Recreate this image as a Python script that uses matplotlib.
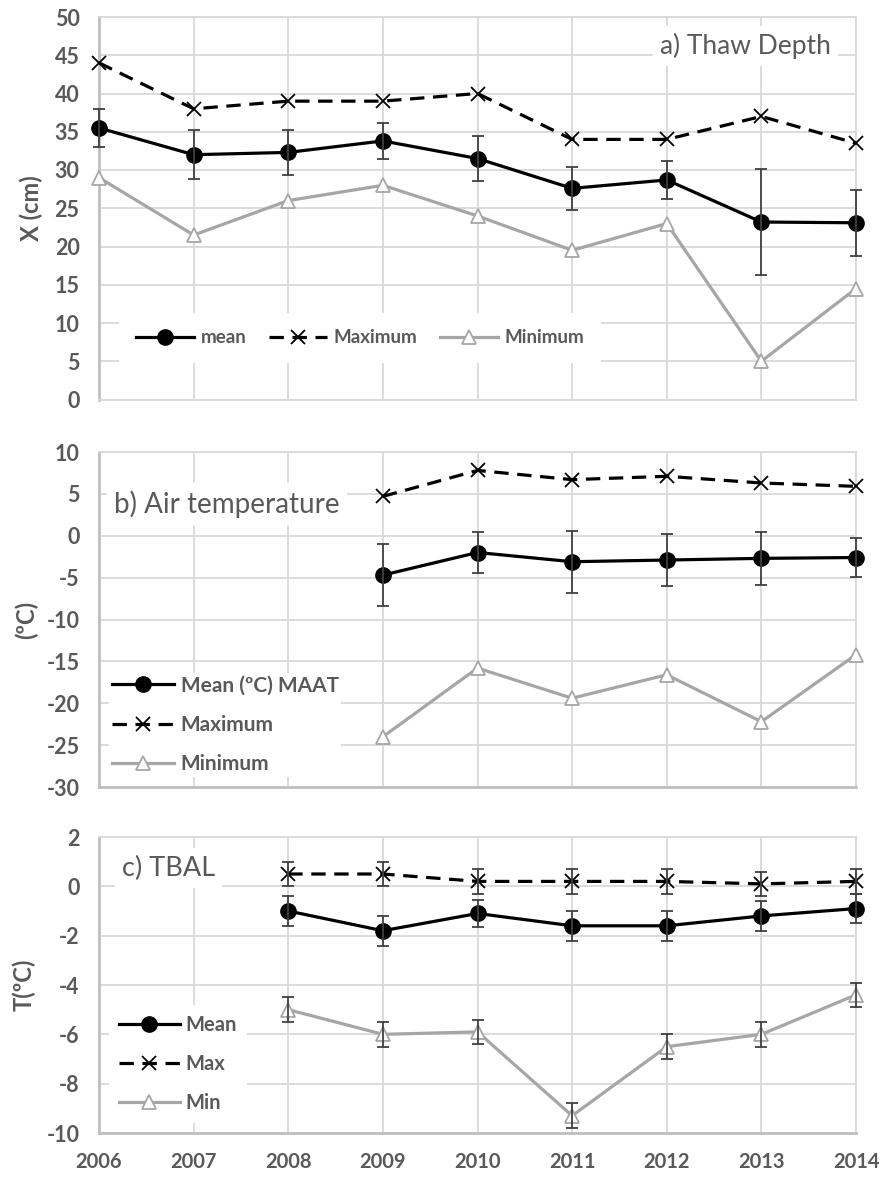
import matplotlib
matplotlib.use("Agg")
import matplotlib.pyplot as plt
import numpy as np

plt.rcParams['font.family'] = ['Lato', 'DejaVu Sans']
plt.rcParams['axes.unicode_minus'] = False

# ---------------- data ----------------
years_a = [2006, 2007, 2008, 2009, 2010, 2011, 2012, 2013, 2014]
thaw_mean = [35.5, 32.0, 32.3, 33.8, 31.5, 27.6, 28.7, 23.2, 23.1]
thaw_mean_err = [2.5, 3.2, 2.9, 2.3, 3.0, 2.8, 2.5, 6.9, 4.3]
thaw_max = [44, 38, 39, 39, 40, 34, 34, 37, 33.5]
thaw_min = [29, 21.5, 26, 28, 24, 19.5, 23, 5, 14.5]

years_b = [2009, 2010, 2011, 2012, 2013, 2014]
air_mean = [-4.7, -2.0, -3.1, -2.9, -2.7, -2.6]
air_mean_err = [3.7, 2.4, 3.7, 3.1, 3.2, 2.3]
air_max = [4.7, 7.8, 6.7, 7.1, 6.3, 5.9]
air_min = [-24.0, -15.8, -19.4, -16.6, -22.2, -14.2]

years_c = [2008, 2009, 2010, 2011, 2012, 2013, 2014]
tbal_mean = [-1.0, -1.8, -1.1, -1.6, -1.6, -1.2, -0.9]
tbal_mean_err = [0.6, 0.6, 0.55, 0.6, 0.6, 0.6, 0.6]
tbal_max = [0.5, 0.5, 0.2, 0.2, 0.2, 0.1, 0.2]
tbal_max_err = [0.5, 0.5, 0.5, 0.5, 0.5, 0.5, 0.5]
tbal_min = [-5.0, -6.0, -5.9, -9.3, -6.5, -6.0, -4.4]
tbal_min_err = [0.5, 0.5, 0.5, 0.5, 0.5, 0.5, 0.5]

x_ticks = [2006, 2007, 2008, 2009, 2010, 2011, 2012, 2013, 2014]

# ---------------- styles ----------------
TXT = '#595959'
GRID = '#D9D9D9'
SPINE = '#BFBFBF'
GRAY = '#A6A6A6'
ERR = '#404040'
W, H = 882, 1178

fig = plt.figure(figsize=(W / 100, H / 100), dpi=100)


def px_axes(left, right, top, bottom):
    return fig.add_axes([left / W, 1 - bottom / H, (right - left) / W, (bottom - top) / H])


ax_a = px_axes(99, 856, 17, 399.5)
ax_b = px_axes(99, 856, 452, 787)
ax_c = px_axes(99, 856, 837, 1133)


def style(ax, ylim, yticks, bottom_spine=True):
    ax.set_xlim(2006, 2014)
    ax.set_ylim(*ylim)
    ax.set_xticks(x_ticks)
    ax.set_yticks(yticks)
    ax.grid(True, color=GRID, linewidth=1.3, zorder=0)
    ax.set_axisbelow(True)
    for s in ['top', 'right']:
        ax.spines[s].set_color(GRID)
        ax.spines[s].set_linewidth(1.3)
    ax.spines['left'].set_color(SPINE)
    ax.spines['left'].set_linewidth(2.0)
    if bottom_spine:
        ax.spines['bottom'].set_color(SPINE)
        ax.spines['bottom'].set_linewidth(2.0)
    else:
        ax.spines['bottom'].set_color(GRID)
        ax.spines['bottom'].set_linewidth(1.3)
    ax.tick_params(axis='y', length=0, colors=TXT, labelsize=15.5, pad=14)
    ax.tick_params(axis='x', length=0, colors=TXT, labelsize=14.5, pad=14)
    for lab in ax.get_yticklabels():
        lab.set_fontweight('bold')
        lab.set_color(TXT)


def draw(ax, x, mean, mean_err, mx, mn, mx_err=None, mn_err=None, labels=('mean', 'Maximum', 'Minimum')):
    l_mean, = ax.plot(x, mean, color='black', lw=2.3, marker='o', ms=11,
                      mfc='black', mec='black', zorder=4, clip_on=False, label=labels[0])
    ax.errorbar(x, mean, yerr=mean_err, fmt='none', ecolor=ERR, elinewidth=1.3,
                capsize=4.5, capthick=1.3, zorder=5, clip_on=False)
    l_max, = ax.plot(x, mx, color='black', lw=2.3, dashes=(4.5, 2.7), marker='x', ms=9.5,
                     mew=1.3, mec='black', zorder=4, clip_on=False, label=labels[1])
    if mx_err is not None:
        ax.errorbar(x, mx, yerr=mx_err, fmt='none', ecolor=ERR, elinewidth=1.3,
                    capsize=4.5, capthick=1.3, zorder=5, clip_on=False)
    l_min, = ax.plot(x, mn, color=GRAY, lw=2.3, marker='^', ms=10.5, mfc='white',
                     mec=GRAY, mew=1.3, zorder=4, clip_on=False, label=labels[2])
    if mn_err is not None:
        ax.errorbar(x, mn, yerr=mn_err, fmt='none', ecolor=ERR, elinewidth=1.3,
                    capsize=4.5, capthick=1.3, zorder=5, clip_on=False)
    return [l_mean, l_max, l_min]


def finish_legend(leg):
    for t in leg.get_texts():
        t.set_color(TXT)
    leg.set_zorder(6)


# ---------------- panel a ----------------
style(ax_a, (0, 50), np.arange(0, 51, 5), bottom_spine=False)
h = draw(ax_a, years_a, thaw_mean, thaw_mean_err, thaw_max, thaw_min,
         labels=('mean', 'Maximum', 'Minimum'))
ax_a.set_xticklabels([])
ax_a.set_ylabel('X (cm)', fontsize=17, fontweight='bold', color=TXT, labelpad=8)
leg = ax_a.legend(handles=h, ncol=3, loc='center', bbox_to_anchor=(0.345, 0.161),
                  frameon=True, facecolor='white', edgecolor='none', framealpha=1,
                  prop={'weight': 'bold', 'size': 13.5}, handlelength=3.1,
                  handletextpad=0.35, columnspacing=1.2, borderpad=0.9)
finish_legend(leg)
ax_a.text(0.967, 0.925, 'a) Thaw Depth', transform=ax_a.transAxes, ha='right', va='center',
          fontsize=19, color=TXT, zorder=6,
          bbox=dict(facecolor='white', edgecolor='none', pad=5))

# ---------------- panel b ----------------
style(ax_b, (-30, 10), np.arange(-30, 11, 5))
h = draw(ax_b, years_b, air_mean, air_mean_err, air_max, air_min,
         labels=('Mean (ºC) MAAT', 'Maximum', 'Minimum'))
ax_b.set_xticklabels([])
ax_b.set_ylabel('(ºC)', fontsize=17, fontweight='bold', color=TXT, labelpad=6)
leg = ax_b.legend(handles=h, ncol=1, loc='lower left', bbox_to_anchor=(0.0, 0.0),
                  frameon=True, facecolor='white', edgecolor='none', framealpha=1,
                  prop={'weight': 'bold', 'size': 15}, handlelength=3.0,
                  handletextpad=0.3, labelspacing=0.92, borderpad=0.12)
finish_legend(leg)
ax_b.text(0.02, 0.845, 'b) Air temperature', transform=ax_b.transAxes, ha='left', va='center',
          fontsize=20, color=TXT, zorder=6,
          bbox=dict(facecolor='white', edgecolor='none', pad=5))

# ---------------- panel c ----------------
style(ax_c, (-10, 2), np.arange(-10, 3, 2))
h = draw(ax_c, years_c, tbal_mean, tbal_mean_err, tbal_max, tbal_min,
         mx_err=tbal_max_err, mn_err=tbal_min_err, labels=('Mean', 'Max', 'Min'))
ax_c.set_ylabel('T(ºC)', fontsize=17, fontweight='bold', color=TXT, labelpad=8)
for lab in ax_c.get_xticklabels():
    lab.set_fontweight('bold')
    lab.set_color(TXT)
leg = ax_c.legend(handles=h, ncol=1, loc='lower left', bbox_to_anchor=(0.0, 0.0),
                  frameon=True, facecolor='white', edgecolor='none', framealpha=1,
                  prop={'weight': 'bold', 'size': 14.5}, handlelength=3.0,
                  handletextpad=0.3, labelspacing=0.95, borderpad=0.5)
finish_legend(leg)
ax_c.text(0.03, 0.895, 'c) TBAL', transform=ax_c.transAxes, ha='left', va='center',
          fontsize=19.5, color=TXT, zorder=6,
          bbox=dict(facecolor='white', edgecolor='none', pad=5))

fig.savefig('out.png', dpi=100)
